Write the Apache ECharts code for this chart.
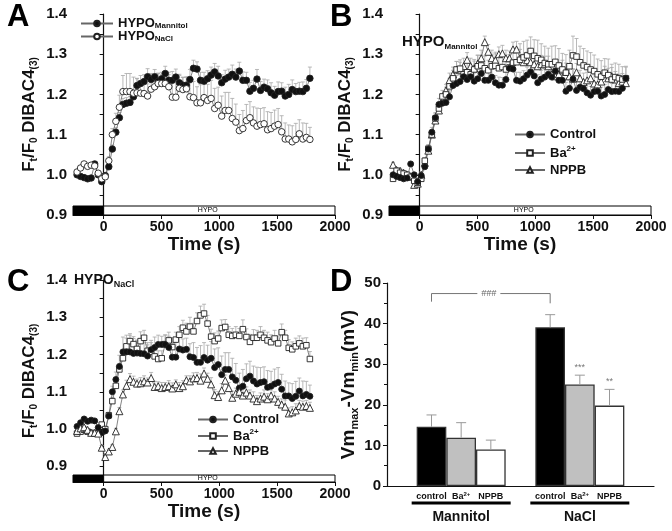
<!DOCTYPE html>
<html>
<head>
<meta charset="utf-8">
<script src="https://cdn.jsdelivr.net/npm/echarts@6/dist/echarts.min.js"></script>
<style>
html, body { margin: 0; padding: 0; background: #fff; }
#chart { width: 672px; height: 531px; }
</style>
</head>
<body>
<div id="chart"></div>
<script>
// sampling times (s), shared by panels A-C
const times = [-230, -199.5, -169, -138.5, -108, -77.5, -47, -16.5, 14, 44.5,
  75, 105.5, 136, 166.5, 197, 227.5, 258, 288.5, 319, 349.5,
  380, 410.5, 441, 471.5, 502, 532.5, 563, 593.5, 624, 654.5,
  685, 715.5, 746, 776.5, 807, 837.5, 868, 898.5, 929, 959.5,
  990, 1020.5, 1051, 1081.5, 1112, 1142.5, 1173, 1203.5, 1234, 1264.5,
  1295, 1325.5, 1356, 1386.5, 1417, 1447.5, 1478, 1508.5, 1539, 1569.5,
  1600, 1630.5, 1661, 1691.5, 1722, 1752.5, 1783];

// HYPO mannitol control (A filled, B control)
const mannitol = [1.000, 0.996, 0.993, 0.990, 0.992, 1.027, 1.000, 0.983, 0.998, 1.020,
  1.064, 1.106, 1.142, 1.175, 1.178, 1.180, 1.194, 1.222, 1.227, 1.232,
  1.244, 1.237, 1.244, 1.233, 1.239, 1.252, 1.235, 1.235, 1.243, 1.229,
  1.223, 1.223, 1.237, 1.265, 1.263, 1.235, 1.233, 1.239, 1.248, 1.256,
  1.246, 1.229, 1.238, 1.243, 1.250, 1.243, 1.258, 1.235, 1.235, 1.208,
  1.215, 1.238, 1.210, 1.218, 1.214, 1.204, 1.198, 1.207, 1.208, 1.196,
  1.200, 1.212, 1.207, 1.208, 1.207, 1.215, 1.240];
const mannitolErr = [0.004, 0.004, 0.005, 0.004, 0.004, 0.006, 0.005, 0.005, 0.006, 0.008,
  0.010, 0.012, 0.013, 0.015, 0.014, 0.015, 0.016, 0.018, 0.020, 0.017,
  0.020, 0.015, 0.018, 0.020, 0.016, 0.018, 0.020, 0.022, 0.020, 0.018,
  0.020, 0.019, 0.025, 0.020, 0.018, 0.020, 0.022, 0.020, 0.020, 0.021,
  0.024, 0.020, 0.022, 0.020, 0.023, 0.020, 0.022, 0.021, 0.020, 0.022,
  0.020, 0.024, 0.022, 0.020, 0.022, 0.025, 0.022, 0.024, 0.021, 0.022,
  0.025, 0.024, 0.020, 0.022, 0.024, 0.022, 0.028];

// HYPO NaCl control (A open, C control)
const nacl = [1.007, 1.017, 1.027, 1.021, 1.024, 1.022, 1.004, 0.990, 0.995, 1.035,
  1.100, 1.133, 1.168, 1.207, 1.207, 1.207, 1.203, 1.204, 1.203, 1.202,
  1.196, 1.213, 1.219, 1.227, 1.227, 1.227, 1.219, 1.193, 1.193, 1.215,
  1.212, 1.214, 1.194, 1.192, 1.179, 1.179, 1.192, 1.185, 1.190, 1.165,
  1.173, 1.146, 1.160, 1.160, 1.140, 1.131, 1.110, 1.115, 1.135, 1.142,
  1.129, 1.121, 1.125, 1.127, 1.112, 1.115, 1.121, 1.125, 1.107, 1.089,
  1.089, 1.082, 1.088, 1.102, 1.089, 1.093, 1.088];
const naclErr = [0.005, 0.005, 0.006, 0.005, 0.005, 0.006, 0.005, 0.006, 0.006, 0.010,
  0.015, 0.020, 0.030, 0.040, 0.045, 0.045, 0.040, 0.035, 0.030, 0.030,
  0.030, 0.025, 0.028, 0.025, 0.022, 0.025, 0.030, 0.040, 0.040, 0.035,
  0.030, 0.030, 0.035, 0.040, 0.040, 0.045, 0.040, 0.040, 0.045, 0.050,
  0.045, 0.050, 0.045, 0.045, 0.050, 0.045, 0.040, 0.045, 0.040, 0.040,
  0.040, 0.045, 0.040, 0.040, 0.045, 0.040, 0.040, 0.040, 0.040, 0.040,
  0.035, 0.040, 0.040, 0.035, 0.040, 0.035, 0.030];

// panel B
const bBa = [0.990, 1.010, 1.005, 1.003, 1.000, 0.995, 0.985, 0.980, 0.990, 1.035,
  1.065, 1.100, 1.140, 1.165, 1.195, 1.200, 1.220, 1.240, 1.262, 1.264,
  1.250, 1.255, 1.250, 1.262, 1.270, 1.272, 1.265, 1.260, 1.270, 1.271,
  1.265, 1.268, 1.262, 1.267, 1.279, 1.280, 1.286, 1.292, 1.297, 1.308,
  1.296, 1.290, 1.286, 1.278, 1.275, 1.275, 1.281, 1.272, 1.262, 1.254,
  1.270, 1.297, 1.294, 1.280, 1.272, 1.268, 1.262, 1.258, 1.250, 1.244,
  1.254, 1.248, 1.237, 1.243, 1.240, 1.237, 1.240];
const bBaErr = [0.006, 0.006, 0.005, 0.006, 0.006, 0.005, 0.006, 0.006, 0.007, 0.008,
  0.010, 0.012, 0.012, 0.015, 0.015, 0.018, 0.020, 0.020, 0.020, 0.022,
  0.020, 0.025, 0.022, 0.025, 0.028, 0.025, 0.030, 0.025, 0.028, 0.030,
  0.028, 0.030, 0.030, 0.032, 0.035, 0.035, 0.040, 0.040, 0.038, 0.035,
  0.040, 0.045, 0.040, 0.042, 0.040, 0.045, 0.040, 0.042, 0.040, 0.045,
  0.040, 0.048, 0.045, 0.040, 0.042, 0.040, 0.042, 0.040, 0.038, 0.040,
  0.035, 0.040, 0.038, 0.035, 0.035, 0.032, 0.030];
const bNppb = [1.025, 1.012, 1.010, 1.005, 1.000, 0.995, 0.975, 0.978, 1.000, 1.030,
  1.060, 1.100, 1.135, 1.160, 1.185, 1.210, 1.235, 1.250, 1.262, 1.260,
  1.270, 1.286, 1.270, 1.265, 1.277, 1.290, 1.330, 1.306, 1.290, 1.285,
  1.300, 1.302, 1.290, 1.290, 1.312, 1.312, 1.290, 1.280, 1.285, 1.280,
  1.275, 1.270, 1.275, 1.275, 1.270, 1.250, 1.245, 1.250, 1.260, 1.256,
  1.245, 1.239, 1.255, 1.240, 1.231, 1.235, 1.240, 1.227, 1.225, 1.232,
  1.250, 1.240, 1.245, 1.237, 1.228, 1.232, 1.228];
const bNppbErr = [0.006, 0.006, 0.006, 0.005, 0.006, 0.006, 0.005, 0.006, 0.007, 0.008,
  0.010, 0.010, 0.012, 0.012, 0.015, 0.015, 0.018, 0.018, 0.020, 0.020,
  0.020, 0.018, 0.020, 0.018, 0.020, 0.020, 0.015, 0.018, 0.020, 0.020,
  0.018, 0.020, 0.020, 0.018, 0.018, 0.020, 0.022, 0.020, 0.020, 0.022,
  0.020, 0.025, 0.022, 0.020, 0.025, 0.022, 0.020, 0.022, 0.025, 0.022,
  0.020, 0.025, 0.022, 0.020, 0.022, 0.020, 0.025, 0.022, 0.020, 0.022,
  0.020, 0.025, 0.022, 0.020, 0.022, 0.020, 0.020];

// panel C
const cBa = [0.988, 0.993, 0.998, 0.993, 0.990, 0.988, 0.988, 1.012, 1.000, 1.037,
  1.075, 1.116, 1.160, 1.190, 1.222, 1.236, 1.228, 1.215, 1.236, 1.245,
  1.210, 1.207, 1.195, 1.188, 1.190, 1.228, 1.238, 1.220, 1.240, 1.253,
  1.272, 1.262, 1.275, 1.262, 1.290, 1.305, 1.310, 1.283, 1.248, 1.236,
  1.243, 1.271, 1.274, 1.253, 1.250, 1.253, 1.250, 1.268, 1.247, 1.234,
  1.245, 1.245, 1.253, 1.245, 1.238, 1.233, 1.243, 1.230, 1.260, 1.245,
  1.218, 1.214, 1.222, 1.230, 1.222, 1.225, 1.188];
const cBaErr = [0.004, 0.004, 0.005, 0.004, 0.004, 0.004, 0.005, 0.006, 0.006, 0.008,
  0.010, 0.012, 0.015, 0.020, 0.022, 0.020, 0.020, 0.022, 0.025, 0.020,
  0.022, 0.025, 0.020, 0.022, 0.020, 0.025, 0.022, 0.025, 0.020, 0.022,
  0.020, 0.022, 0.025, 0.022, 0.022, 0.025, 0.025, 0.022, 0.020, 0.022,
  0.020, 0.022, 0.020, 0.022, 0.020, 0.022, 0.020, 0.025, 0.022, 0.020,
  0.022, 0.020, 0.022, 0.020, 0.022, 0.020, 0.022, 0.020, 0.022, 0.020,
  0.022, 0.020, 0.022, 0.020, 0.022, 0.020, 0.020];
const cNppb = [0.995, 1.002, 1.005, 0.998, 0.990, 0.990, 0.988, 0.950, 0.925, 0.940,
  0.952, 0.994, 1.048, 1.093, 1.116, 1.134, 1.127, 1.122, 1.123, 1.128,
  1.125, 1.137, 1.113, 1.115, 1.110, 1.113, 1.115, 1.109, 1.120, 1.110,
  1.115, 1.131, 1.128, 1.136, 1.137, 1.130, 1.149, 1.135, 1.120, 1.091,
  1.086, 1.104, 1.130, 1.110, 1.084, 1.095, 1.100, 1.090, 1.098, 1.090,
  1.082, 1.075, 1.082, 1.087, 1.080, 1.090, 1.082, 1.073, 1.066, 1.060,
  1.042, 1.045, 1.050, 1.062, 1.060, 1.062, 1.057];
const cNppbErr = [0.004, 0.004, 0.004, 0.004, 0.004, 0.004, 0.005, 0.006, 0.006, 0.006,
  0.006, 0.008, 0.010, 0.012, 0.015, 0.015, 0.015, 0.012, 0.015, 0.015,
  0.012, 0.015, 0.015, 0.012, 0.015, 0.012, 0.015, 0.015, 0.012, 0.015,
  0.015, 0.012, 0.015, 0.015, 0.015, 0.018, 0.015, 0.015, 0.018, 0.015,
  0.015, 0.018, 0.015, 0.015, 0.018, 0.015, 0.015, 0.018, 0.015, 0.015,
  0.018, 0.015, 0.015, 0.018, 0.015, 0.015, 0.018, 0.015, 0.015, 0.018,
  0.015, 0.015, 0.018, 0.015, 0.015, 0.015, 0.015];

// ticks
const xTicks = [0, 500, 1000, 1500, 2000];
const yLabels = [0.9, 1.0, 1.1, 1.2, 1.3, 1.4];
const yTicks = [0.9, 0.95, 1.0, 1.05, 1.1, 1.15, 1.2, 1.25, 1.3, 1.35, 1.4];
const xRange = [-265, 2000];

// stimulus bar: [start, end, filled]
const stimBlocks = [[-265, 0, 1], [0, 2000, 0]];
const stimLabel = 'HYPO';
const stimLabelAt = 900;

// panel D
const dTreatments = ['control', 'Ba2+', 'NPPB'];
const dGroups = ['Mannitol', 'NaCl'];
const dMannitol = [14.6, 11.9, 9.0];
const dMannitolErr = [2.9, 3.7, 2.3];
const dNaCl = [39.1, 25.0, 19.8];
const dNaClErr = [3.1, 2.3, 4.0];
const dNaClStars = ['', '***', '**'];
const dColors = ['#000', '#c0c0c0', '#fff'];

const FONT = 'Liberation Sans, Arial, sans-serif';
const INK = '#111';

const chart = echarts.init(document.getElementById('chart'));

function timeAxis(gi) {
  return {
    type: 'value', gridIndex: gi, min: xRange[0], max: xRange[1],
    axisLine: { lineStyle: { color: INK, width: 1.2 } },
    axisTick: { customValues: xTicks, length: 4, lineStyle: { color: INK } },
    axisLabel: { customValues: xTicks, formatter: v => String(v), color: INK, fontFamily: FONT, fontSize: 14, fontWeight: 'bold', margin: 5 },
    splitLine: { show: false },
    name: 'Time (s)', nameLocation: 'middle', nameGap: 19,
    nameTextStyle: { color: INK, fontFamily: FONT, fontSize: 19, fontWeight: 'bold' }
  };
}

const ratioName = '{m|F}{s|t}{m|/F}{s|0}{m| DIBAC4}{s|(3)}';
function ratioAxis(gi, min) {
  return {
    type: 'value', gridIndex: gi, min: min, max: 1.4,
    axisLine: { show: true, lineStyle: { color: INK, width: 1.2 } },
    axisTick: { show: true, customValues: yTicks, length: 4, lineStyle: { color: INK } },
    axisLabel: { customValues: yLabels, formatter: v => v.toFixed(1), color: INK, fontFamily: FONT, fontSize: 15, fontWeight: 'bold', margin: 6 },
    splitLine: { show: false },
    name: ratioName, nameLocation: 'middle', nameGap: 34, nameRotate: 90,
    nameTextStyle: {
      rich: {
        m: { fontFamily: FONT, fontSize: 17, fontWeight: 'bold', color: INK, lineHeight: 20 },
        s: { fontFamily: FONT, fontSize: 10, fontWeight: 'bold', color: INK, lineHeight: 10, verticalAlign: 'bottom' }
      }
    }
  };
}

function lineSeries(name, gi, vals, symbol, filled, size) {
  return {
    name: name, type: 'line', xAxisIndex: gi, yAxisIndex: gi,
    data: vals.map((v, i) => [times[i], v]),
    symbol: symbol, symbolSize: size, showAllSymbol: true,
    itemStyle: { color: filled ? '#111' : '#fff', borderColor: '#222', borderWidth: 0.9 },
    lineStyle: { color: '#666', width: 0.8 },
    z: 3
  };
}

function errSeries(gi, vals, errs) {
  return {
    type: 'custom', xAxisIndex: gi, yAxisIndex: gi, silent: true, z: 2,
    data: vals.map((v, i) => [times[i], v, errs[i]]),
    renderItem: function (params, api) {
      const p0 = api.coord([api.value(0), api.value(1)]);
      const p1 = api.coord([api.value(0), api.value(1) + api.value(2)]);
      const st = { stroke: '#a8a8a8', lineWidth: 0.8 };
      return {
        type: 'group', children: [
          { type: 'line', shape: { x1: p0[0], y1: p0[1], x2: p1[0], y2: p1[1] }, style: st },
          { type: 'line', shape: { x1: p1[0] - 2, y1: p1[1], x2: p1[0] + 2, y2: p1[1] }, style: st }
        ]
      };
    }
  };
}

// black/white stimulus bar at the foot of each time-course plot
function stimSeries(gi, h) {
  return {
    type: 'custom', xAxisIndex: gi, yAxisIndex: gi, silent: true, z: 5,
    data: stimBlocks,
    renderItem: function (params, api) {
      const cs = params.coordSys;
      const x1 = api.coord([api.value(0), 1])[0];
      const x2 = api.coord([api.value(1), 1])[0];
      const y = cs.y + cs.height - h;
      const filled = api.value(2) === 1;
      const kids = [{ type: 'rect', shape: { x: x1, y: y, width: x2 - x1, height: h },
        style: { fill: filled ? '#000' : '#fff', stroke: '#000', lineWidth: 1 } }];
      if (!filled) {
        kids.push({ type: 'text', x: api.coord([stimLabelAt, 1])[0], y: y + h / 2,
          style: { text: stimLabel, fontFamily: FONT, fontSize: 7, fill: '#000', align: 'center', verticalAlign: 'middle' } });
      }
      return { type: 'group', children: kids };
    }
  };
}

const legendLabels = {
  A_man: '{m|HYPO}{s|Mannitol}', A_nacl: '{m|HYPO}{s|NaCl}',
  B_ctrl: '{m|Control}', B_ba: '{m|Ba}{p|2+}', B_nppb: '{m|NPPB}',
  C_ctrl: '{m|Control}', C_ba: '{m|Ba}{p|2+}', C_nppb: '{m|NPPB}'
};
function legendRich(lh) {
  return {
    m: { fontFamily: FONT, fontSize: 13, fontWeight: 'bold', color: INK, lineHeight: lh },
    s: { fontFamily: FONT, fontSize: 8, fontWeight: 'bold', color: INK, lineHeight: 8, verticalAlign: 'bottom' },
    p: { fontFamily: FONT, fontSize: 8, fontWeight: 'bold', color: INK, lineHeight: 8, verticalAlign: 'top' }
  };
}
function legend(names, left, top, w, gap, lh) {
  return {
    data: names, left: left, top: top, orient: 'vertical', itemWidth: w, itemHeight: 7,
    itemGap: gap, selectedMode: false, padding: 0,
    formatter: n => legendLabels[n], textStyle: { rich: legendRich(lh) }
  };
}

// panel D slots: gap, 3 mannitol bars, gap, 3 NaCl bars, gap
const dValues = [dMannitol, dNaCl];
const dErrs = [dMannitolErr, dNaClErr];
const dStars = [['', '', ''], dNaClStars];
const dSlots = [null];
dGroups.forEach((g, gi) => {
  dTreatments.forEach((t, j) => dSlots.push({ g: gi, j: j }));
  dSlots.push(null);
});
const dSlotOf = (g, j) => dSlots.findIndex(s => s && s.g === g && s.j === j);

const option = {
  animation: false,
  backgroundColor: '#fff',
  grid: [
    { left: 73, top: 14, width: 262, height: 201 },
    { left: 389, top: 14, width: 262, height: 201 },
    { left: 73, top: 280, width: 262, height: 202 },
    { left: 387, top: 283, width: 267, height: 203 }
  ],
  xAxis: [
    timeAxis(0), timeAxis(1), timeAxis(2),
    {
      type: 'category', gridIndex: 3, data: dSlots.map((s, i) => String(i)),
      axisLine: { lineStyle: { color: INK, width: 1.2 } },
      axisTick: { show: false },
      axisLabel: {
        interval: 0, margin: 5,
        formatter: (v, i) => {
          const s = dSlots[i];
          if (!s) return '';
          const t = dTreatments[s.j];
          return t === 'Ba2+' ? '{a|Ba}{p|2+}' : '{a|' + t + '}';
        },
        rich: {
          a: { fontFamily: FONT, fontSize: 9, fontWeight: 'bold', color: INK, lineHeight: 12 },
          p: { fontFamily: FONT, fontSize: 6, fontWeight: 'bold', color: INK, lineHeight: 6, verticalAlign: 'top' }
        }
      }
    }
  ],
  yAxis: [
    ratioAxis(0, 0.9), ratioAxis(1, 0.9), ratioAxis(2, 0.858),
    {
      type: 'value', gridIndex: 3, min: 0, max: 50, interval: 10,
      axisLine: { show: true, lineStyle: { color: INK, width: 1.2 } },
      axisTick: { show: true, length: 4, lineStyle: { color: INK } },
      minorTick: { show: true, splitNumber: 2, length: 3, lineStyle: { color: INK } },
      axisLabel: { color: INK, fontFamily: FONT, fontSize: 15, fontWeight: 'bold', margin: 6 },
      splitLine: { show: false },
      name: '{m|Vm}{s|max}{m|-Vm}{s|min}{m|(mV)}', nameLocation: 'middle', nameGap: 27, nameRotate: 90,
      nameTextStyle: {
        rich: {
          m: { fontFamily: FONT, fontSize: 19, fontWeight: 'bold', color: INK, lineHeight: 22 },
          s: { fontFamily: FONT, fontSize: 11, fontWeight: 'bold', color: INK, lineHeight: 11, verticalAlign: 'bottom' }
        }
      }
    }
  ],
  legend: [
    legend(['A_man', 'A_nacl'], 80, 17, 32, 0, 12),
    legend(['B_ctrl', 'B_ba', 'B_nppb'], 514, 128, 30, 4, 16),
    legend(['C_ctrl', 'C_ba', 'C_nppb'], 197, 413, 30, 2, 16)
  ],
  graphic: [
    { type: 'text', left: 7, top: 2, style: { text: 'A', font: 'bold 31px ' + FONT, fill: '#000' } },
    { type: 'text', left: 330, top: 2, style: { text: 'B', font: 'bold 31px ' + FONT, fill: '#000' } },
    { type: 'text', left: 7, top: 267, style: { text: 'C', font: 'bold 31px ' + FONT, fill: '#000' } },
    { type: 'text', left: 330, top: 267, style: { text: 'D', font: 'bold 31px ' + FONT, fill: '#000' } },
    { type: 'text', left: 402, top: 34, style: { text: '{m|HYPO}{s|Mannitol}', rich: {
      m: { fontFamily: FONT, fontSize: 15, fontWeight: 'bold', fill: INK, lineHeight: 18 },
      s: { fontFamily: FONT, fontSize: 8, fontWeight: 'bold', fill: INK, lineHeight: 8, verticalAlign: 'bottom' } } } },
    { type: 'text', left: 74, top: 273, style: { text: '{m|HYPO}{s|NaCl}', rich: {
      m: { fontFamily: FONT, fontSize: 14, fontWeight: 'bold', fill: INK, lineHeight: 18 },
      s: { fontFamily: FONT, fontSize: 9, fontWeight: 'bold', fill: INK, lineHeight: 9, verticalAlign: 'bottom' } } } }
  ],
  series: [
    // A
    errSeries(0, mannitol, mannitolErr),
    errSeries(0, nacl, naclErr),
    lineSeries('A_man', 0, mannitol, 'circle', true, 6.5),
    lineSeries('A_nacl', 0, nacl, 'circle', false, 6.5),
    stimSeries(0, 9),
    // B
    errSeries(1, bBa, bBaErr),
    errSeries(1, bNppb, bNppbErr),
    errSeries(1, mannitol, mannitolErr),
    lineSeries('B_nppb', 1, bNppb, 'triangle', false, 7),
    lineSeries('B_ba', 1, bBa, 'rect', false, 5.5),
    lineSeries('B_ctrl', 1, mannitol, 'circle', true, 6),
    stimSeries(1, 9),
    // C
    errSeries(2, cBa, cBaErr),
    errSeries(2, nacl, naclErr),
    errSeries(2, cNppb, cNppbErr),
    lineSeries('C_ba', 2, cBa, 'rect', false, 5.5),
    lineSeries('C_ctrl', 2, nacl, 'circle', true, 6),
    lineSeries('C_nppb', 2, cNppb, 'triangle', false, 7),
    stimSeries(2, 7),
    // D bars
    {
      type: 'bar', xAxisIndex: 3, yAxisIndex: 3, barCategoryGap: 0, z: 2,
      data: dSlots.map(s => s ? { value: dValues[s.g][s.j], itemStyle: { color: dColors[s.j] } } : '-'),
      itemStyle: { borderColor: '#333', borderWidth: 1.3 }
    },
    // D error bars and stars
    {
      type: 'custom', xAxisIndex: 3, yAxisIndex: 3, silent: true, z: 3,
      data: dSlots.map((s, i) => s ? [i, dValues[s.g][s.j], dErrs[s.g][s.j]] : null).filter(d => d),
      renderItem: function (params, api) {
        const idx = api.value(0);
        const p0 = api.coord([idx, api.value(1)]);
        const p1 = api.coord([idx, api.value(1) + api.value(2)]);
        const s = dSlots[idx];
        const st = { stroke: '#999', lineWidth: 1 };
        return {
          type: 'group', children: [
            { type: 'line', shape: { x1: p0[0], y1: p0[1], x2: p1[0], y2: p1[1] }, style: st },
            { type: 'line', shape: { x1: p1[0] - 5, y1: p1[1], x2: p1[0] + 5, y2: p1[1] }, style: st },
            { type: 'text', x: p1[0], y: p1[1] - 3, style: { text: dStars[s.g][s.j], fontFamily: FONT, fontSize: 9, fill: '#777', align: 'center', verticalAlign: 'bottom' } }
          ]
        };
      }
    },
    // D significance bracket between the two controls
    {
      type: 'custom', xAxisIndex: 3, yAxisIndex: 3, silent: true, z: 3,
      data: [[dSlotOf(0, 0), dSlotOf(1, 0), 47.4, 45.4, 45.0]],
      renderItem: function (params, api) {
        const a = api.coord([api.value(0), api.value(2)]);
        const b = api.coord([api.value(1), api.value(2)]);
        const aEnd = api.coord([api.value(0), api.value(3)]);
        const bEnd = api.coord([api.value(1), api.value(4)]);
        const st = { stroke: '#666', lineWidth: 0.9, fill: null };
        return {
          type: 'group', children: [
            { type: 'polyline', shape: { points: [aEnd, a, b, bEnd] }, style: st },
            { type: 'text', x: (a[0] + b[0]) / 2 - 2, y: a[1], style: { text: '###', fontFamily: FONT, fontSize: 9, fontStyle: 'italic', fill: '#666', align: 'center', verticalAlign: 'middle', backgroundColor: '#fff', padding: [0, 4] } }
          ]
        };
      }
    },
    // D group underline + label
    {
      type: 'custom', xAxisIndex: 3, yAxisIndex: 3, silent: true, z: 3,
      data: dGroups.map((g, gi) => [dSlotOf(gi, 0), dSlotOf(gi, dTreatments.length - 1)]),
      renderItem: function (params, api) {
        const a = api.coord([api.value(0), 0]);
        const b = api.coord([api.value(1), 0]);
        const band = api.size([1, 0])[0];
        const x1 = a[0] - band / 2 - 5;
        const x2 = b[0] + band / 2 + 5;
        const y = a[1] + 17;
        return {
          type: 'group', children: [
            { type: 'rect', shape: { x: x1, y: y - 1.5, width: x2 - x1, height: 3 }, style: { fill: '#000' } },
            { type: 'text', x: (x1 + x2) / 2, y: y + 14, style: { text: dGroups[params.dataIndex], fontFamily: FONT, fontSize: 14, fontWeight: 'bold', fill: INK, align: 'center', verticalAlign: 'middle' } }
          ]
        };
      }
    }
  ]
};

chart.setOption(option);
</script>
</body>
</html>
